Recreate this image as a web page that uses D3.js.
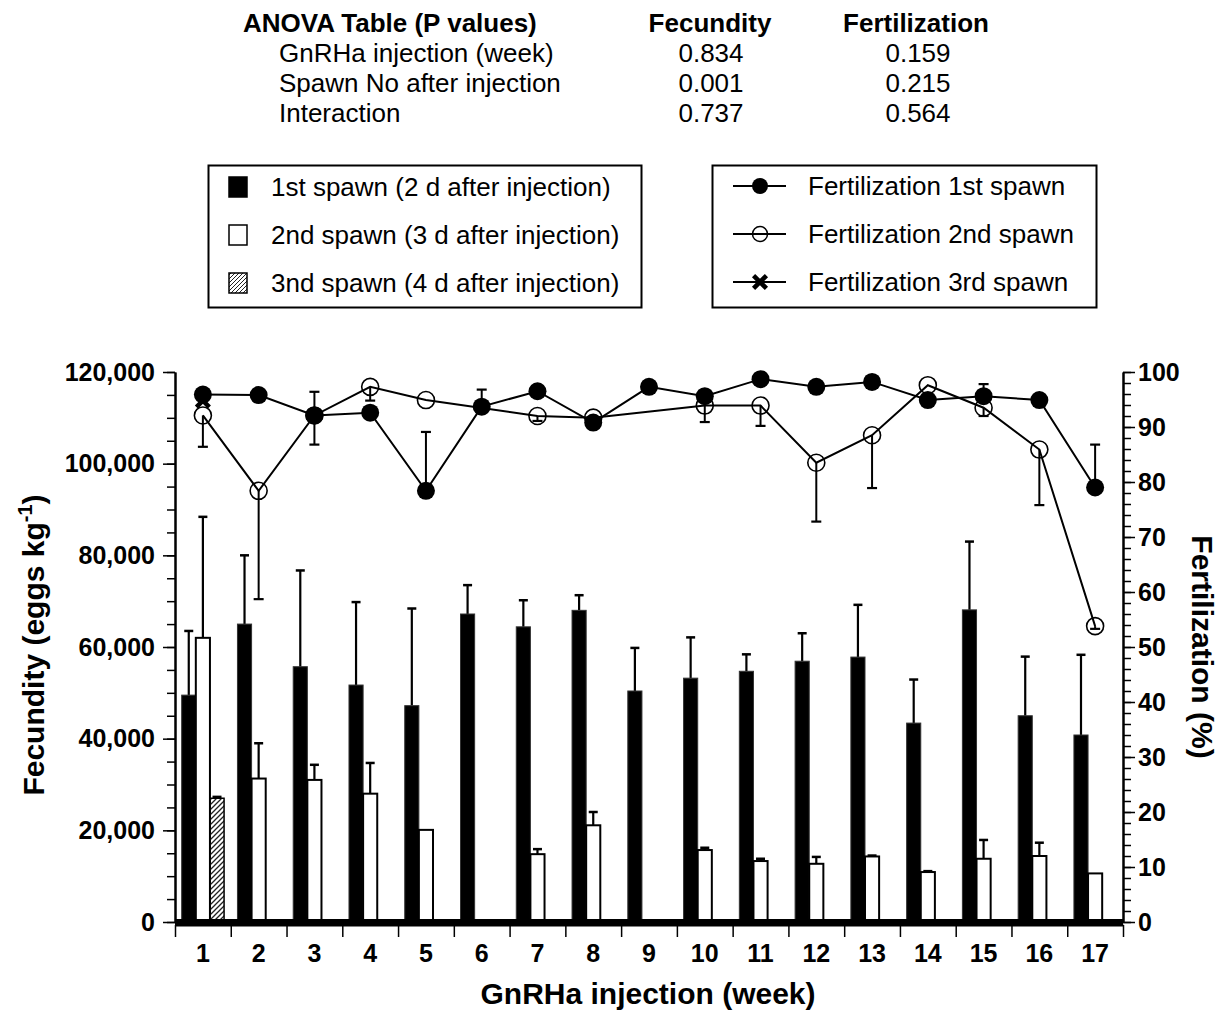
<!DOCTYPE html>
<html>
<head>
<meta charset="utf-8">
<script src="https://cdn.jsdelivr.net/npm/d3@7"></script>
<style>
  body { margin: 0; background: #fff; }
  svg text { font-family: "Liberation Sans", Arial, Helvetica, sans-serif; fill: #000; }
</style>
</head>
<body>
<svg id="chart" width="1223" height="1012"></svg>
<script>
// weeks of GnRHa injection
var weeks = ["1","2","3","4","5","6","7","8","9","10","11","12","13","14","15","16","17"];

// fecundity (eggs/kg) mean and SE, null = no spawn
var spawn1    = [49500, 65000, 55700, 51700, 47200, 67200, 64400, 68000, 50400, 53200, 54700, 56900, 57800, 43400, 68100, 45000, 40800];
var spawn1Err = [14000, 15000, 21000, 18100, 21200, 6300, 5800, 3300, 9400, 8900, 3700, 6100, 11400, 9500, 14900, 12900, 17500];
var spawn2    = [62000, 31300, 31000, 28000, 20100, null, 14800, 21100, null, 15700, 13300, 12700, 14300, 10900, 13800, 14400, 10600];
var spawn2Err = [26400, 7700, 3300, 6700, 0, null, 1100, 2900, null, 500, 500, 1500, 200, 200, 4100, 2900, 0];
var spawn3    = [27000, null, null, null, null, null, null, null, null, null, null, null, null, null, null, null, null];
var spawn3Err = [300, null, null, null, null, null, null, null, null, null, null, null, null, null, null, null, null];

// fertilization (%) mean and SE
var fert1    = [95.9, 95.8, 92.1, 92.6, 78.4, 93.7, 96.5, 90.8, 97.3, 95.6, 98.7, 97.3, 98.2, 94.9, 95.6, 94.9, 79.0];
var fert1Err = [0, 0, 4.3, 0, 10.7, 3.1, 0, 0, 0, 0, 0, 0, 0, 0, 2.2, 0, 7.8];
var fert2    = [92.1, 78.4, 92.1, 97.3, 94.9, null, 92.0, 91.7, null, 93.9, 93.9, 83.5, 88.5, 97.6, 93.5, 85.9, 53.8];
var fert2Err = [5.7, 19.7, 5.3, 2.5, 0, null, 0.9, 0, null, 3.0, 3.7, 10.7, 9.6, 0, 1.5, 10.1, 0.5];
var fert3    = [94.8, null, null, null, null, null, null, null, null, null, null, null, null, null, null, null, null];

// ANOVA table
var anovaHead = ["ANOVA Table (P values)", "Fecundity", "Fertilization"];
var anovaRows = ["GnRHa injection (week)", "Spawn No after injection", "Interaction"];
var anovaFec  = ["0.834", "0.001", "0.737"];
var anovaFert = ["0.159", "0.215", "0.564"];

var barLegend  = ["1st spawn (2 d after injection)", "2nd spawn (3 d after injection)", "3nd spawn (4 d after injection)"];
var lineLegend = ["Fertilization 1st spawn", "Fertilization 2nd spawn", "Fertilization 3rd spawn"];

var svg = d3.select("#chart");

var plotL = 175, plotR = 1123, plotT = 372, plotB = 922;

var x = d3.scaleBand().domain(weeks).range([plotL, plotR]);
var bw = x.bandwidth();
var xs = d3.scaleBand().domain([0, 1, 2]).range([bw * 0.12, bw * 0.88]);
var y = d3.scaleLinear().domain([0, 120000]).range([plotB, plotT]);
var yR = d3.scaleLinear().domain([0, 100]).range([plotB, plotT]);

// hatch for 3rd spawn
var defs = svg.append("defs");
defs.append("pattern")
    .attr("id", "hatch")
    .attr("patternUnits", "userSpaceOnUse")
    .attr("width", 5).attr("height", 5)
  .append("path")
    .attr("d", "M-1,1 l2,-2 M0,5 l5,-5 M4,6 l2,-2")
    .attr("stroke", "#222").attr("stroke-width", 1.3);
defs.append("pattern").attr("id", "hatchLeg")
    .attr("patternUnits", "userSpaceOnUse")
    .attr("width", 4).attr("height", 4)
  .append("path")
    .attr("d", "M-1,1 l2,-2 M0,4 l4,-4 M3,5 l2,-2")
    .attr("stroke", "#222").attr("stroke-width", 1);

// ---- ANOVA table ----
var tbl = svg.append("g").style("font-size", "26px");
tbl.append("text").attr("x", 243).attr("y", 32).style("font-weight", "bold").text(anovaHead[0]);
tbl.append("text").attr("x", 710).attr("y", 32).attr("text-anchor", "middle").style("font-weight", "bold").text(anovaHead[1]);
tbl.append("text").attr("x", 916).attr("y", 32).attr("text-anchor", "middle").style("font-weight", "bold").text(anovaHead[2]);
anovaRows.forEach(function (r, i) {
  var by = 62 + i * 30;
  tbl.append("text").attr("x", 279).attr("y", by).text(r);
  tbl.append("text").attr("x", 711).attr("y", by).attr("text-anchor", "middle").text(anovaFec[i]);
  tbl.append("text").attr("x", 918).attr("y", by).attr("text-anchor", "middle").text(anovaFert[i]);
});

// ---- legends ----
var leg1 = svg.append("g");
leg1.append("rect").attr("x", 208.5).attr("y", 165.5).attr("width", 433).attr("height", 142)
    .attr("fill", "none").attr("stroke", "#000").attr("stroke-width", 2);
var swFill = ["#000", "#fff", "url(#hatchLeg)"];
barLegend.forEach(function (t, i) {
  var cy = 187 + i * 48;
  leg1.append("rect").attr("x", 229).attr("y", cy - 10).attr("width", 18).attr("height", 20)
      .attr("fill", swFill[i]).attr("stroke", "#000").attr("stroke-width", 1.5);
  leg1.append("text").attr("x", 271).attr("y", cy + 9).style("font-size", "26px").text(t);
});

var leg2 = svg.append("g");
leg2.append("rect").attr("x", 712.5).attr("y", 165.5).attr("width", 384).attr("height", 142)
    .attr("fill", "none").attr("stroke", "#000").attr("stroke-width", 2);
lineLegend.forEach(function (t, i) {
  var cy = 186 + i * 48;
  leg2.append("line").attr("x1", 733).attr("x2", 786).attr("y1", cy).attr("y2", cy)
      .attr("stroke", "#000").attr("stroke-width", 2);
  if (i == 0) {
    leg2.append("circle").attr("cx", 760).attr("cy", cy).attr("r", 8).attr("fill", "#000");
  } else if (i == 1) {
    leg2.append("circle").attr("cx", 760).attr("cy", cy).attr("r", 7.5)
        .attr("fill", "none").attr("stroke", "#000").attr("stroke-width", 1.5);
  } else {
    leg2.append("path").attr("transform", "translate(760," + cy + ")")
        .attr("d", d3.symbol(d3.symbolX, 110)())
        .attr("stroke", "#000").attr("stroke-width", 4.5);
  }
  leg2.append("text").attr("x", 808).attr("y", cy + 9).style("font-size", "26px").text(t);
});

// ---- bars ----
var barSeries = [
  { vals: spawn1, errs: spawn1Err, fill: "#000", stroke: "#333", sw: 1 },
  { vals: spawn2, errs: spawn2Err, fill: "#fff", stroke: "#000", sw: 2 },
  { vals: spawn3, errs: spawn3Err, fill: "url(#hatch)", stroke: "#000", sw: 1.5 }
];

var barG = svg.append("g");
barSeries.forEach(function (s, si) {
  var data = weeks.map(function (w, i) { return { week: w, v: s.vals[i], e: s.errs[i] }; })
                  .filter(function (d) { return d.v != null && d.v > 0; });
  var cx = function (d) { return x(d.week) + xs(si) + xs.bandwidth() / 2; };

  // error bars drawn first so bar top covers line start
  var eb = data.filter(function (d) { return d.e > 0; });
  barG.selectAll(null).data(eb).enter().append("line")
      .attr("x1", cx).attr("x2", cx)
      .attr("y1", function (d) { return y(d.v); })
      .attr("y2", function (d) { return y(d.v + d.e); })
      .attr("stroke", "#000").attr("stroke-width", 2.2);
  barG.selectAll(null).data(eb).enter().append("line")
      .attr("x1", function (d) { return cx(d) - 4.5; })
      .attr("x2", function (d) { return cx(d) + 4.5; })
      .attr("y1", function (d) { return y(d.v + d.e); })
      .attr("y2", function (d) { return y(d.v + d.e); })
      .attr("stroke", "#000").attr("stroke-width", 2.5);

  barG.selectAll(null).data(data).enter().append("rect")
      .attr("x", function (d) { return x(d.week) + xs(si); })
      .attr("y", function (d) { return y(d.v); })
      .attr("width", xs.bandwidth())
      .attr("height", function (d) { return y(0) - y(d.v); })
      .attr("fill", s.fill).attr("stroke", s.stroke).attr("stroke-width", s.sw);
});

// ---- fertilization lines ----
var lineG = svg.append("g");
var mid = function (d) { return x(d.week) + bw / 2; };
var line = d3.line().x(mid).y(function (d) { return yR(d.v); });

function pts(vals, errs) {
  return weeks.map(function (w, i) { return { week: w, v: vals[i], e: errs ? errs[i] : 0 }; })
              .filter(function (d) { return d.v != null; });
}
var p1 = pts(fert1, fert1Err), p2 = pts(fert2, fert2Err), p3 = pts(fert3, null);

lineG.append("path").attr("d", line(p2)).attr("fill", "none").attr("stroke", "#000").attr("stroke-width", 2);
lineG.append("path").attr("d", line(p1)).attr("fill", "none").attr("stroke", "#000").attr("stroke-width", 2);

// error bars: 1st spawn upward, 2nd spawn downward
function errBars(data, dir) {
  var eb = data.filter(function (d) { return d.e > 0; });
  lineG.selectAll(null).data(eb).enter().append("line")
      .attr("x1", mid).attr("x2", mid)
      .attr("y1", function (d) { return yR(d.v); })
      .attr("y2", function (d) { return yR(d.v + dir * d.e); })
      .attr("stroke", "#000").attr("stroke-width", 2);
  lineG.selectAll(null).data(eb).enter().append("line")
      .attr("x1", function (d) { return mid(d) - 5; })
      .attr("x2", function (d) { return mid(d) + 5; })
      .attr("y1", function (d) { return yR(d.v + dir * d.e); })
      .attr("y2", function (d) { return yR(d.v + dir * d.e); })
      .attr("stroke", "#000").attr("stroke-width", 2.2);
}
errBars(p2, -1);
errBars(p1, 1);

lineG.selectAll(null).data(p3).enter().append("path")
    .attr("transform", function (d) { return "translate(" + mid(d) + "," + yR(d.v) + ")"; })
    .attr("d", d3.symbol(d3.symbolX, 110)())
    .attr("stroke", "#000").attr("stroke-width", 4.5);

lineG.selectAll(null).data(p2).enter().append("circle")
    .attr("cx", mid).attr("cy", function (d) { return yR(d.v); })
    .attr("r", 8.5).attr("fill", "none").attr("stroke", "#000").attr("stroke-width", 1.6);
lineG.selectAll(null).data(p1).enter().append("circle")
    .attr("cx", mid).attr("cy", function (d) { return yR(d.v); })
    .attr("r", 9).attr("fill", "#000");

// ---- axes ----
var axG = svg.append("g").style("font-weight", "bold");

axG.append("g").attr("transform", "translate(" + plotL + ",0)")
    .call(d3.axisLeft(y).tickValues(d3.range(0, 120001, 20000)).tickFormat(d3.format(","))
          .tickSize(12).tickPadding(8).tickSizeOuter(0));
axG.append("g").attr("transform", "translate(" + plotL + ",0)")
    .call(d3.axisLeft(y).tickValues(d3.range(0, 120001, 5000)).tickFormat("").tickSize(8).tickSizeOuter(0));

axG.append("g").attr("transform", "translate(" + plotR + ",0)")
    .call(d3.axisRight(yR).tickValues(d3.range(0, 101, 10)).tickSize(12).tickPadding(3).tickSizeOuter(0));
axG.append("g").attr("transform", "translate(" + plotR + ",0)")
    .call(d3.axisRight(yR).tickValues(d3.range(0, 101, 2)).tickFormat("").tickSize(8).tickSizeOuter(0));

var xl = d3.scaleLinear().domain([0, weeks.length]).range([plotL, plotR]);
axG.append("g").attr("transform", "translate(0," + (plotB + 3) + ")")
    .call(d3.axisBottom(xl).tickValues(d3.range(0, weeks.length + 1)).tickFormat("").tickSize(12).tickSizeOuter(0));
var xAxis = axG.append("g").attr("transform", "translate(0," + plotB + ")")
    .call(d3.axisBottom(x).tickSize(0).tickPadding(22));
xAxis.select(".domain").remove();

axG.selectAll(".domain").attr("stroke", "#000").attr("stroke-width", 2);
axG.selectAll(".tick line").attr("stroke", "#000").attr("stroke-width", 1.5);
axG.selectAll(".tick text").style("font-size", "25px").style("font-family", "'Liberation Sans', Arial, sans-serif");

// thick baseline
svg.append("line").attr("x1", plotL).attr("x2", plotR).attr("y1", y(0)).attr("y2", y(0))
    .attr("stroke", "#000").attr("stroke-width", 6);

// titles
svg.append("text").attr("x", 648).attr("y", 1004).attr("text-anchor", "middle")
    .style("font-size", "30px").style("font-weight", "bold").text("GnRHa injection (week)");

var lt = svg.append("text").attr("transform", "translate(44,645) rotate(-90)").attr("text-anchor", "middle")
    .style("font-size", "30px").style("font-weight", "bold");
lt.append("tspan").text("Fecundity (eggs kg");
lt.append("tspan").attr("dy", -12).style("font-size", "20px").text("-1");
lt.append("tspan").attr("dy", 12).text(")");

svg.append("text").attr("transform", "translate(1192,647) rotate(90)").attr("text-anchor", "middle")
    .style("font-size", "30px").style("font-weight", "bold").text("Fertilization (%)");
</script>
</body>
</html>
